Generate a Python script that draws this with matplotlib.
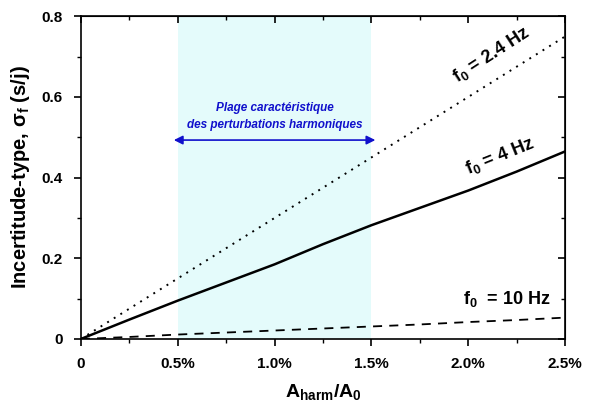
import matplotlib
matplotlib.use("Agg")
import matplotlib.pyplot as plt
import numpy as np

plt.rcParams['font.family'] = ['Liberation Sans', 'DejaVu Sans']
plt.rcParams['font.weight'] = 'bold'
plt.rcParams['mathtext.fontset'] = 'custom'
plt.rcParams['mathtext.rm'] = 'Liberation Sans:bold'
plt.rcParams['mathtext.it'] = 'Liberation Sans:bold'
plt.rcParams['mathtext.bf'] = 'Liberation Sans:bold'

# data (x in %)
x = [0, 0.25, 0.5, 0.75, 1.0, 1.25, 1.5, 1.75, 2.0, 2.25, 2.5]
s_24 = [0, 0.075, 0.15, 0.225, 0.30, 0.375, 0.45, 0.525, 0.60, 0.675, 0.75]
s_4 = [0, 0.048, 0.095, 0.14, 0.185, 0.235, 0.282, 0.325, 0.368, 0.415, 0.465]
s_10 = [0, 0.005, 0.011, 0.016, 0.021, 0.026, 0.031, 0.036, 0.042, 0.047, 0.053]
xticks = [0, 0.5, 1.0, 1.5, 2.0, 2.5]
xticklabels = ['0', '0.5%', '1.0%', '1.5%', '2.0%', '2.5%']
yticks = [0, 0.2, 0.4, 0.6, 0.8]
yticklabels = ['0', '0.2', '0.4', '0.6', '0.8']

fig = plt.figure(figsize=(5.9, 4.05), dpi=100)
ax = fig.add_axes([0.137, 0.163, 0.821, 0.797])

ax.axvspan(0.5, 1.5, color='#e4fbfb', lw=0, zorder=0)
ax.plot(x, s_24, color='black', lw=1.4, linestyle=(0, (1, 3)))
ax.plot(x, s_4, color='black', lw=1.8)
ax.plot(x, s_10, color='black', lw=1.3, linestyle=(0, (5, 4)))

ax.set_xlim(0, 2.5)
ax.set_ylim(0, 0.8)
ax.set_xticks(xticks)
ax.set_xticklabels(xticklabels)
ax.set_yticks(yticks)
ax.set_yticklabels(yticklabels)
ax.set_xticks(np.arange(0, 2.51, 0.25), minor=True)
ax.set_yticks(np.arange(0, 0.81, 0.1), minor=True)
ax.tick_params(axis='both', which='major', direction='out', length=5, width=1.2,
               labelsize=11, pad=8, top=False, right=False)
ax.tick_params(axis='both', which='minor', direction='out', length=3, width=1.0,
               top=False, right=False)
ax2 = ax.secondary_xaxis('top')
ax2.set_xticks(xticks)
ax2.set_xticks(np.arange(0, 2.51, 0.25), minor=True)
ax2.tick_params(which='major', direction='in', length=5, width=1.2, labeltop=False)
ax2.tick_params(which='minor', direction='in', length=3, width=1.0)
ax3 = ax.secondary_yaxis('right')
ax3.set_yticks(yticks)
ax3.set_yticks(np.arange(0, 0.81, 0.1), minor=True)
ax3.tick_params(which='major', direction='in', length=5, width=1.2, labelright=False)
ax3.tick_params(which='minor', direction='in', length=3, width=1.0)
for sp in ax.spines.values():
    sp.set_linewidth(1.2)

ax.set_xlabel(r'A$_{\mathregular{harm}}$/A$_0$', fontsize=14, fontweight='bold', labelpad=8)
ax.set_ylabel(r'Incertitude-type, σ$_f$ (s/j)', fontsize=14.5, fontweight='bold', labelpad=7)

ax.annotate('', xy=(0.48, 0.493), xytext=(1.52, 0.493),
            arrowprops=dict(arrowstyle='<|-|>', color='#1010cc', lw=1.2,
                            mutation_scale=13, shrinkA=0, shrinkB=0))
ax.text(1.0, 0.573, 'Plage caractéristique', color='#1010cc', fontsize=8.5,
        style='italic', fontweight='bold', ha='center', va='center')
ax.text(1.0, 0.530, 'des perturbations harmoniques', color='#1010cc', fontsize=8.5,
        style='italic', fontweight='bold', ha='center', va='center')

ax.text(2.12, 0.705, r'f$_0$ = 2.4 Hz', rotation=33, fontsize=13, fontweight='bold',
        ha='center', va='center', rotation_mode='anchor')
ax.text(2.164, 0.452, r'f$_0$ = 4 Hz', rotation=22, fontsize=13, fontweight='bold',
        ha='center', va='center', rotation_mode='anchor')
ax.text(2.2, 0.1, r'f$_0$  = 10 Hz', fontsize=13, fontweight='bold',
        ha='center', va='center')

fig.savefig('out.png', dpi=100)
